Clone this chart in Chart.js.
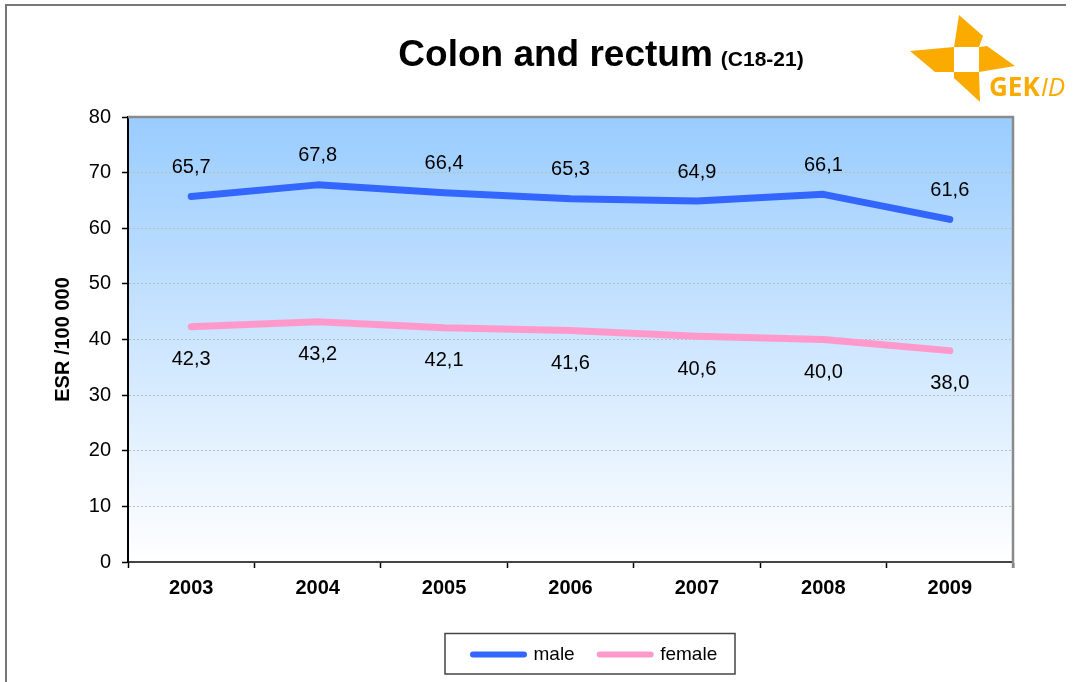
<!DOCTYPE html>
<html><head><meta charset="utf-8">
<script src="https://cdn.jsdelivr.net/npm/chart.js@4/dist/chart.umd.min.js"></script>
<style>html,body{margin:0;padding:0;background:#fff;overflow:hidden}canvas{display:block}</style>
</head><body>
<canvas id="c" width="1075" height="682"></canvas>
<script>
const years = ['2003', '2004', '2005', '2006', '2007', '2008', '2009'];
const male = [65.7, 67.8, 66.4, 65.3, 64.9, 66.1, 61.6];
const female = [42.3, 43.2, 42.1, 41.6, 40.6, 40.0, 38.0];
const seriesNames = ['male', 'female'];
const yMin = 0, yMax = 80, yStep = 10;
const titleMain = 'Colon and rectum';
const titleSub = '(C18-21)';
const yTitle = 'ESR /100 000';
const logoText1 = 'GEK';
const logoText2 = 'ID';

const FONT = '"Liberation Sans", Arial, sans-serif';
Chart.defaults.font.family = FONT;
Chart.defaults.color = '#000';

const fmt = v => v.toFixed(1).replace('.', ',');

const bgPlugin = {
  id: 'bg',
  beforeDraw(chart) {
    const {ctx, chartArea: {left, top, right, bottom}} = chart;
    ctx.save();
    ctx.fillStyle = '#fff';
    ctx.fillRect(0, 0, chart.width, chart.height);
    const g = ctx.createLinearGradient(0, top, 0, bottom);
    g.addColorStop(0, '#99CCFF');
    g.addColorStop(1, '#FFFFFF');
    ctx.fillStyle = g;
    ctx.fillRect(left, top, right - left, bottom - top);
    ctx.strokeStyle = '#777';
    ctx.lineWidth = 2;
    ctx.beginPath();
    ctx.moveTo(6, 682);
    ctx.lineTo(6, 5);
    ctx.lineTo(1066, 5);
    ctx.stroke();
    ctx.restore();
  },
  beforeDatasetsDraw(chart) {
    const {ctx, chartArea: {left, top, right, bottom}} = chart;
    ctx.save();
    ctx.strokeStyle = '#8a8a8a';
    ctx.lineWidth = 2.5;
    ctx.beginPath();
    ctx.moveTo(left, top);
    ctx.lineTo(right, top);
    ctx.lineTo(right, bottom + 6);
    ctx.stroke();
    ctx.restore();
  }
};

const labelPlugin = {
  id: 'valLabels',
  afterDatasetsDraw(chart) {
    const ctx = chart.ctx;
    ctx.save();
    ctx.font = '20px ' + FONT;
    ctx.fillStyle = '#000';
    ctx.textAlign = 'center';
    ctx.textBaseline = 'middle';
    chart.data.datasets.forEach((ds, i) => {
      const meta = chart.getDatasetMeta(i);
      const off = i === 0 ? -29 : 33;
      meta.data.forEach((pt, j) => {
        ctx.fillText(fmt(ds.data[j]), pt.x, pt.y + off);
      });
    });
    ctx.restore();
  }
};

const decoPlugin = {
  id: 'deco',
  afterLayout(chart) {
    const lg = chart.legend;
    if (!lg) return;
    lg.left = 448; lg.right = 1000;
    lg.top = 620; lg.bottom = 680;
    lg.width = lg.right - lg.left; lg.height = lg.bottom - lg.top;
  },
  afterDraw(chart) {
    const ctx = chart.ctx;
    ctx.save();
    ctx.fillStyle = '#000';
    ctx.textBaseline = 'alphabetic';
    ctx.textAlign = 'left';
    ctx.font = 'bold 37px ' + FONT;
    const w1 = ctx.measureText(titleMain).width;
    ctx.font = 'bold 21px ' + FONT;
    const w2 = ctx.measureText(titleSub).width;
    const gap = 8;
    const x0 = 601 - (w1 + gap + w2) / 2;
    ctx.font = 'bold 37px ' + FONT;
    ctx.fillText(titleMain, x0, 66);
    ctx.font = 'bold 21px ' + FONT;
    ctx.fillText(titleSub, x0 + w1 + gap, 66);

    ctx.strokeStyle = '#444';
    ctx.lineWidth = 1.5;
    ctx.strokeRect(445, 633.5, 290, 40.5);

    const orange = '#FBAB00';
    ctx.fillStyle = orange;
    const blades = [
      [[959, 15], [983, 36], [979, 47], [954, 47]],
      [[979, 47], [987, 46], [1015, 66], [979, 72]],
      [[954, 72], [979, 72], [980, 102], [954, 78]],
      [[910, 51], [954, 47], [954, 72], [935, 72]]
    ];
    blades.forEach(b => {
      ctx.beginPath();
      ctx.moveTo(b[0][0], b[0][1]);
      for (let k = 1; k < b.length; k++) ctx.lineTo(b[k][0], b[k][1]);
      ctx.closePath();
      ctx.fill();
    });
    ctx.font = 'bold 26px "Open Sans", ' + FONT;
    ctx.fillText(logoText1, 989, 96);
    const wg = ctx.measureText(logoText1).width;
    ctx.font = 'italic 26px "Open Sans", ' + FONT;
    ctx.fillText(logoText2, 989 + wg + 1, 96);
    ctx.restore();
  }
};

const defaultGen = Chart.defaults.plugins.legend.labels.generateLabels;

new Chart(document.getElementById('c'), {
  type: 'line',
  data: {
    labels: years,
    datasets: [
      { label: seriesNames[0], data: male, borderColor: '#3366FF', backgroundColor: '#3366FF',
        borderWidth: 7, pointRadius: 0, tension: 0, borderCapStyle: 'round', borderJoinStyle: 'round', fill: false },
      { label: seriesNames[1], data: female, borderColor: '#FF99CC', backgroundColor: '#FF99CC',
        borderWidth: 7, pointRadius: 0, tension: 0, borderCapStyle: 'round', borderJoinStyle: 'round', fill: false }
    ]
  },
  options: {
    responsive: false,
    animation: false,
    devicePixelRatio: 1,
    layout: { padding: { left: 51, right: 62, top: 117, bottom: 0 } },
    plugins: {
      title: { display: false },
      tooltip: { enabled: false },
      legend: {
        display: true,
        position: 'bottom',
        align: 'start',
        labels: {
          usePointStyle: true,
          pointStyle: 'line',
          pointStyleWidth: 51,
          boxWidth: 51,
          boxHeight: 19,
          padding: 25,
          color: '#000',
          font: { size: 19, family: FONT },
          generateLabels(chart) {
            return defaultGen(chart).map(it => Object.assign(it, { lineCap: 'round', lineWidth: 6 }));
          }
        }
      }
    },
    scales: {
      x: {
        type: 'category',
        offset: true,
        grid: { offset: true, drawOnChartArea: false, drawTicks: true, tickLength: 6, color: '#000', tickColor: '#000', tickWidth: 1.5 },
        border: { color: '#444', width: 2 },
        ticks: { font: { size: 20, weight: 'bold' }, color: '#000', padding: 8, maxRotation: 0 },
        afterFit(s) { const lg = s.chart.legend; s.height = 120 - (lg ? lg.height : 0); }
      },
      y: {
        min: yMin, max: yMax,
        ticks: { stepSize: yStep, font: { size: 20 }, color: '#000', padding: 11 },
        grid: { color: '#bdbdbd', lineWidth: 1, tickColor: '#000', tickLength: 6, tickWidth: 1.5 },
        border: { color: '#000', width: 2, dash: [2, 2] },
        title: { display: true, text: yTitle, font: { size: 20, weight: 'bold' }, color: '#000', padding: 0 },
        afterFit(s) { s.width = 77; }
      }
    }
  },
  plugins: [bgPlugin, labelPlugin, decoPlugin]
});
</script>
</body></html>
